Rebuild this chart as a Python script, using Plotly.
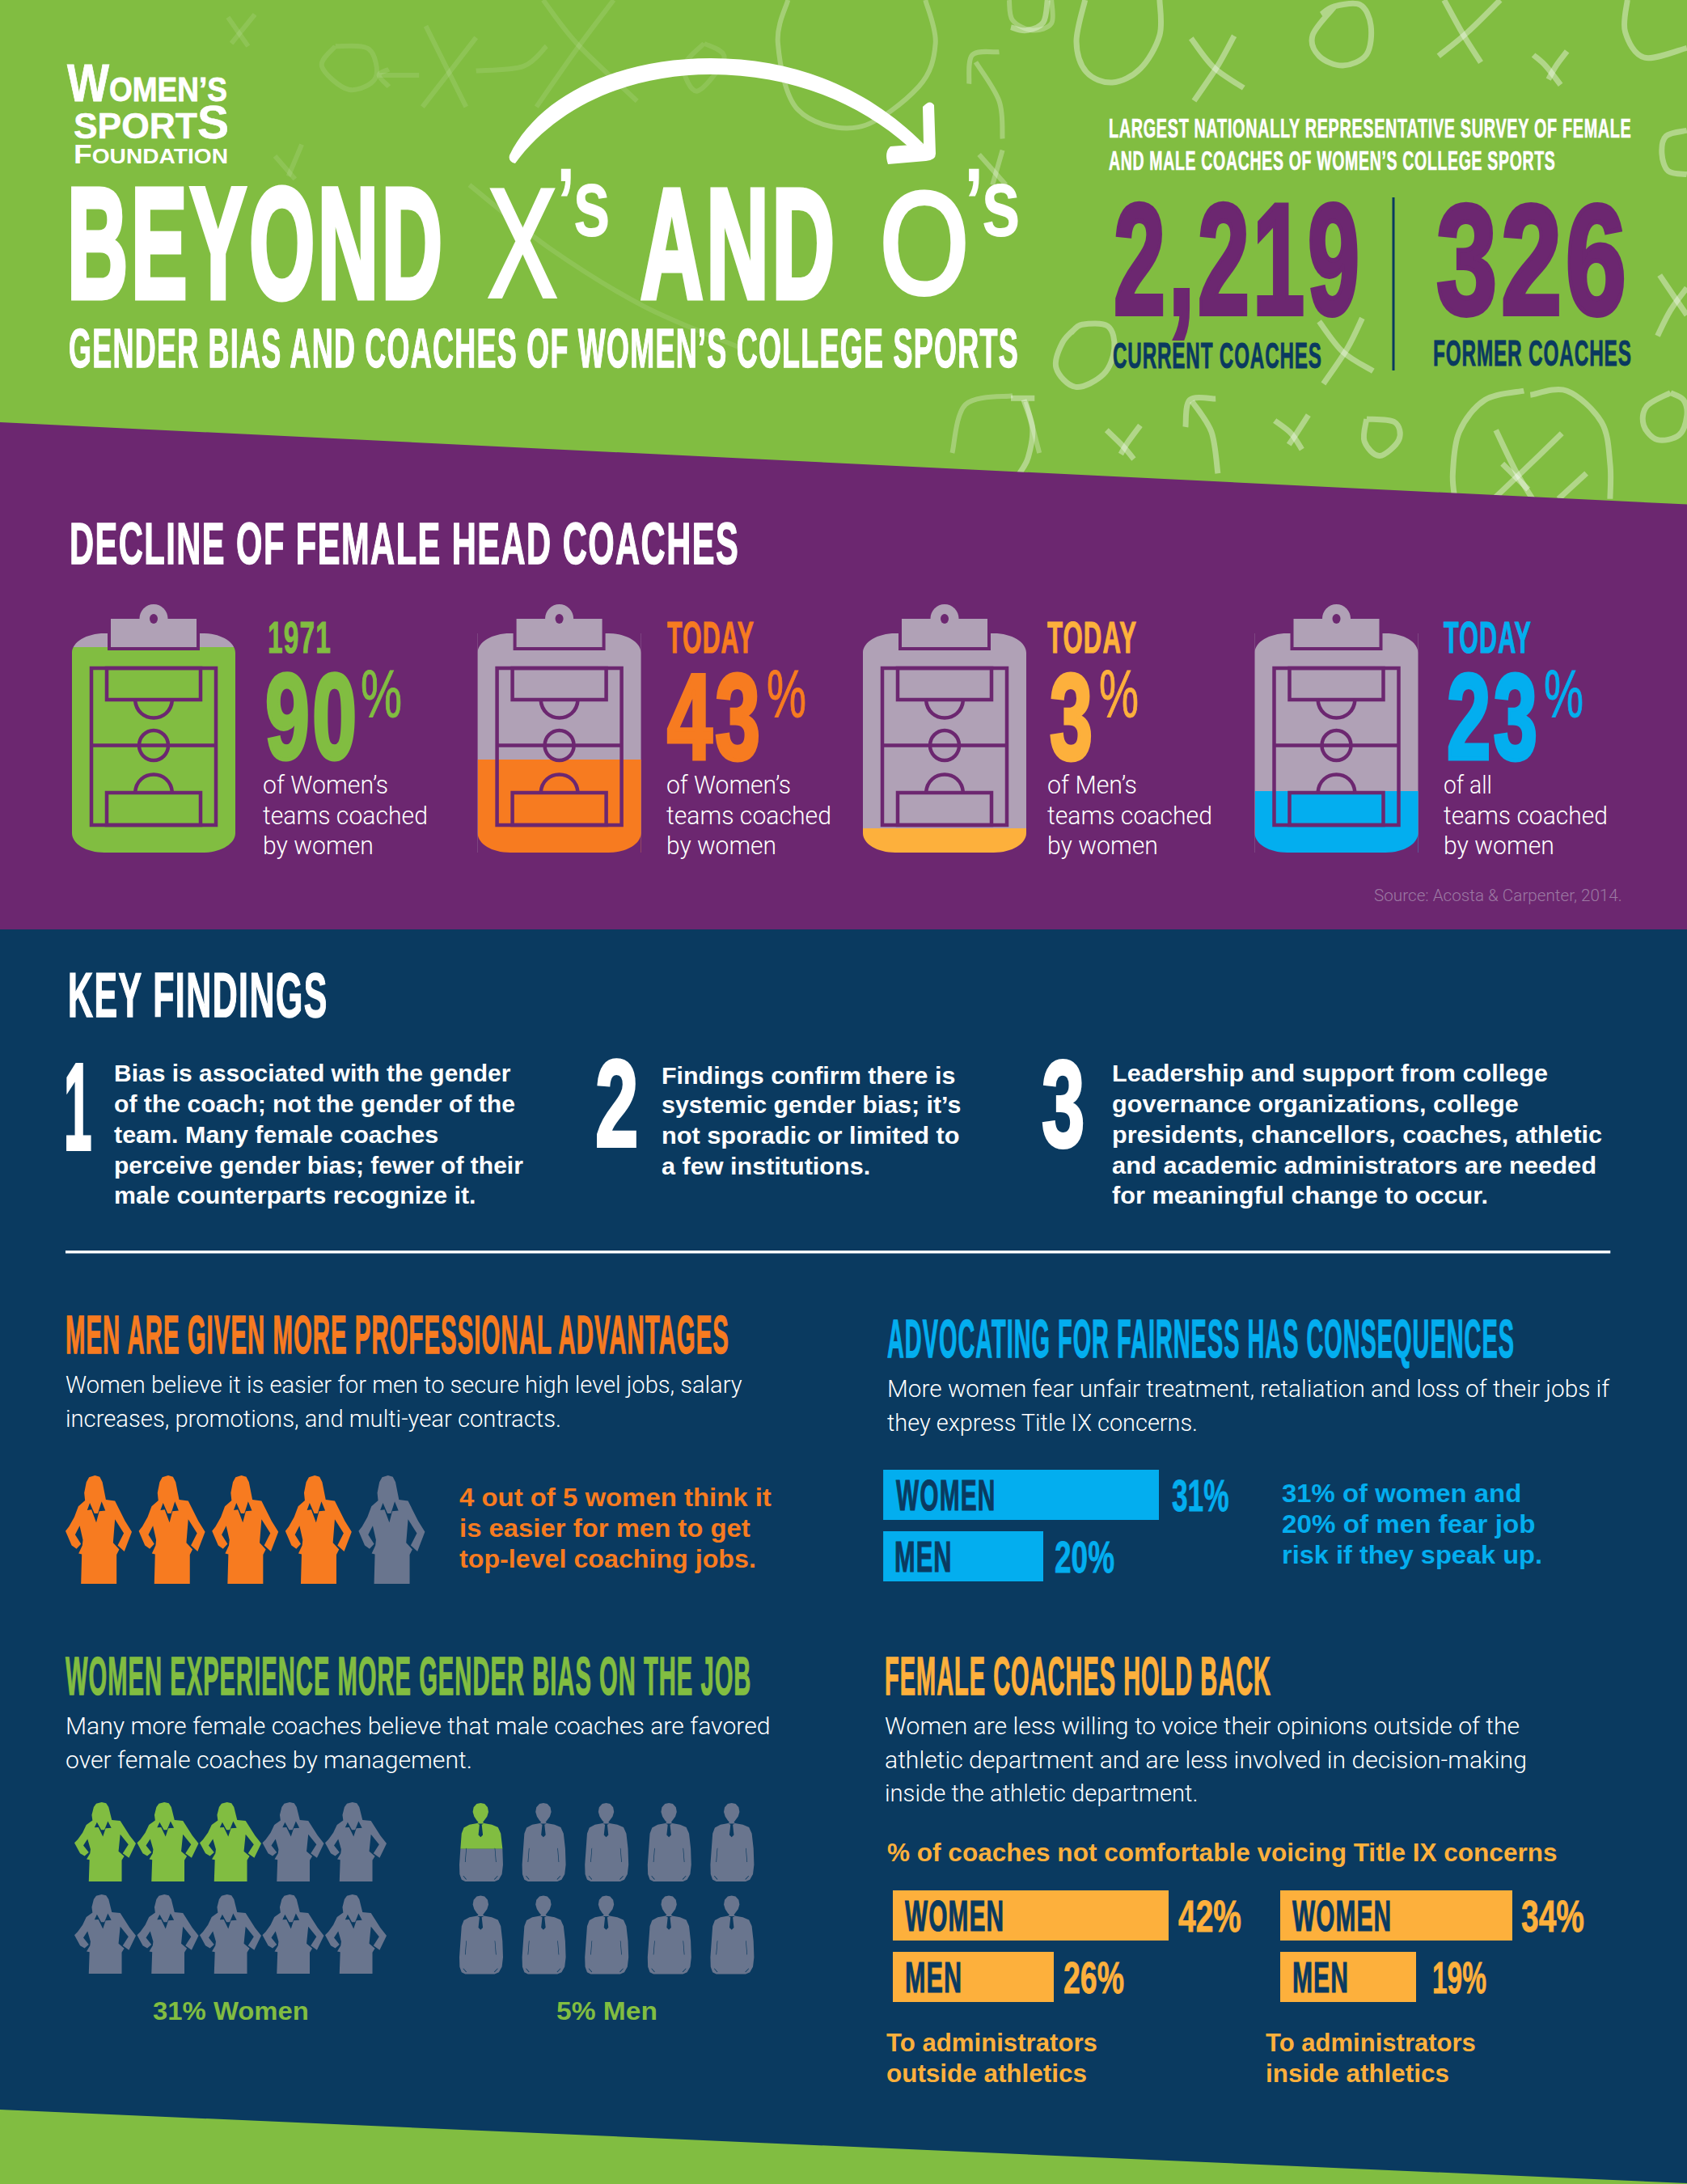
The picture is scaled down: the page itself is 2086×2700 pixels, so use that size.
import json
import plotly.graph_objects as go

# ---------- data ----------
COACH_COUNTS = ["2,219", "326"]
COACH_LABELS = ["CURRENT COACHES", "FORMER COACHES"]
CLIP_TITLES = ["1971", "TODAY", "TODAY", "TODAY"]
CLIP_PERCENT = [90, 43, 3, 23]
CLIP_FILL_LEVEL = [93.7, 42.4, 11.0, 28.0]   # drawn fill height of each clipboard, % of clipboard
CLIP_FIRST_LINE = ["of Women’s", "of Women’s", "of Men’s", "of all"]
FAIR_CATS = ["WOMEN", "MEN"]
FAIR_VALUES = [31, 20]
OUTSIDE_CATS = ["WOMEN", "MEN"]
OUTSIDE_VALUES = [42, 26]
INSIDE_CATS = ["WOMEN", "MEN"]
INSIDE_VALUES = [34, 19]
ADV_ICONS_TOTAL, ADV_ICONS_FILLED = 5, 4
BIAS_WOMEN_TOTAL, BIAS_WOMEN_FILLED = 10, 3
BIAS_MEN_TOTAL, BIAS_MEN_FILLED = 10, 0.586

# ---------- palette ----------
GREEN = "#81BD41"; PURPLE = "#6C2770"; NAVY = "#0A3A60"; ORANGE = "#F77B20"
YELLOW = "#FDB03C"; BLUE = "#03AEEF"; LILAC = "#B0A1B6"; ICON = "#69758E"
NARROW = "Liberation Sans Narrow, Liberation Sans"; SANS = "Liberation Sans"; LIGHT = "Roboto"

W, H = 2086, 2700
k = W / 1211.0

fig = go.Figure()
shapes, annots, fits = [], [], {}
layout_axes = {}
axis_n = [1]

def new_axes(x0, x1, y0, y1, xr, yr):
    axis_n[0] += 1
    n = axis_n[0]
    layout_axes[f"xaxis{n}"] = dict(domain=[x0 / W, x1 / W], range=xr, visible=False, anchor=f"y{n}", fixedrange=True)
    layout_axes[f"yaxis{n}"] = dict(domain=[1 - y1 / H, 1 - y0 / H], range=yr, visible=False, anchor=f"x{n}", fixedrange=True)
    return f"x{n}", f"y{n}"

def T(x, y, text, size, color, fam=NARROW, bold=True, x1=None, anchor="left", weight=None, ls=None, sw=None):
    i = len(annots)
    annots.append(dict(x=x, y=y, xref="x", yref="y", text=text, showarrow=False, xanchor=anchor, yanchor="middle",
                       borderpad=0, borderwidth=0, align="left",
                       font=dict(size=size, color=color, family=fam, weight=weight if weight else (700 if bold else 400))))
    if x1 is not None:
        is_narrow = fam == NARROW and bold
        fits[i] = dict(w=x1 - x,
                       ls=(0.035 * size if is_narrow else 0) if ls is None else ls,
                       sw=(0.02 * size if is_narrow else 0) if sw is None else sw)

def TP(x, y, text, size, color, fam=NARROW, x1=None, **kw):
    T(x * k, y * k, text, size, color, fam, x1=None if x1 is None else x1 * k, **kw)

def poly(points, color, layer="below"):
    d = "M " + " L ".join(f"{x:.1f},{y:.1f}" for x, y in points) + " Z"
    shapes.append(dict(type="path", path=d, xref="x", yref="y", layer=layer, fillcolor=color, line=dict(width=0)))

def rect(x0, y0, x1, y1, fill, layer="below"):
    shapes.append(dict(type="rect", x0=x0, y0=y0, x1=x1, y1=y1, xref="x", yref="y", layer=layer,
                       fillcolor=fill, line=dict(width=0)))

def spline(pts, color, width):
    if len(pts) < 3:
        d = f"M {pts[0][0]:.1f},{pts[0][1]:.1f} L {pts[1][0]:.1f},{pts[1][1]:.1f}"
    else:
        d = f"M {pts[0][0]:.1f},{pts[0][1]:.1f}"
        for i in range(len(pts) - 1):
            p0 = pts[max(i - 1, 0)]; p1 = pts[i]; p2 = pts[i + 1]; p3 = pts[min(i + 2, len(pts) - 1)]
            c1 = (p1[0] + (p2[0] - p0[0]) / 6, p1[1] + (p2[1] - p0[1]) / 6)
            c2 = (p2[0] - (p3[0] - p1[0]) / 6, p2[1] - (p3[1] - p1[1]) / 6)
            d += f" C {c1[0]:.1f},{c1[1]:.1f} {c2[0]:.1f},{c2[1]:.1f} {p2[0]:.1f},{p2[1]:.1f}"
    shapes.append(dict(type="path", path=d, xref="x", yref="y", layer="below", line=dict(width=width, color=color),
                       fillcolor="rgba(0,0,0,0)"))

# ---------- background ----------
rect(0, 0, W, 700, GREEN)

RIGHT_DOODLES = [
    [(172,0),(152,130),(175,225),(235,258),(300,215),(345,110),(345,0)],
    [(418,120),(470,210),(540,275)], [(518,112),(480,205),(425,315)],
    [(750,22),(700,110),(715,175),(770,205),(825,170),(835,80),(810,15),(750,20),(720,45)],
    [(1005,0),(1050,110),(1090,195)], [(1135,0),(1060,100),(992,175)],
    [(1212,172),(1240,205),(1275,265)], [(1290,160),(1265,205),(1247,248)],
    [(1430,0),(1425,100),(1470,180),(1568,150)],
    [(0,85),(35,95),(75,70),(85,0)],
    [(1568,408),(1520,425),(1510,480),(1525,535),(1568,545)],
    [(1505,860),(1540,930),(1568,985)], [(1568,900),(1530,970),(1500,1050)],
    [(155,1020),(120,1070),(105,1150),(150,1210),(215,1170),(240,1090),(225,1020),(165,1015),(140,1040)],
    [(715,1005),(770,1100),(840,1160)], [(815,995),(780,1090),(725,1200)],
    [(0,1245),(55,1245)], [(30,1250),(50,1340),(40,1430),(20,1480)],
    [(222,1345),(260,1395),(285,1435)], [(300,1330),(270,1385),(255,1420)],
    [(475,1247),(415,1250),(405,1335)], [(420,1255),(465,1350),(480,1480)],
    [(612,1315),(650,1355),(675,1405)], [(690,1298),(660,1360),(645,1390)],
    [(825,1310),(820,1380),(855,1425),(900,1375),(890,1320),(825,1310)],
    [(1190,1222),(1100,1250),(1040,1350),(1025,1480),(1030,1560)],
    [(1205,1235),(1290,1222),(1370,1320),(1390,1450),(1390,1560)],
    [(1125,1345),(1170,1470),(1210,1560)], [(1278,1355),(1190,1470),(1120,1560)],
    [(1530,1228),(1475,1270),(1468,1330),(1500,1375),(1550,1360),(1568,1300),(1560,1250),(1530,1228)],
    [(1140,1450),(1200,1530)], [(1335,1480),(1270,1560)],
]
for d in RIGHT_DOODLES:
    spline([(1250 + X / 1.876, Y / 2.529) for X, Y in d], "rgba(255,255,255,0.38)", 7)

LEFT_DOODLES = [
    [(340,60),(370,160)], [(380,50),(345,150)],
    [(635,90),(665,230),(695,370)], [(710,130),(670,250),(630,370)],
    [(710,245),(780,230),(815,160)],
    [(500,160),(480,230),(520,310),(560,270),(550,170),(500,160)],
    [(565,260),(625,260)], [(580,240),(565,260),(580,300)],
    [(810,0),(860,150),(950,350)], [(915,0),(860,170),(800,370)],
    [(1050,150),(1020,230),(1040,315),(1080,200),(1050,150)],
    [(1175,0),(1160,150),(1190,380),(1280,440),(1370,300),(1395,150),(1380,0)],
    [(1505,0),(1510,70),(1540,105),(1568,80),(1568,0)],
    [(1490,180),(1450,190),(1445,290)], [(1455,215),(1490,350),(1495,480)],
    [(1495,520),(1480,640)], [(1460,535),(1500,640)],
    [(450,500),(430,610)], [(410,540),(440,620)],
    [(700,640),(820,860),(960,1060),(1100,1200)],
    [(1510,1370),(1440,1400),(1420,1568)], [(1530,1390),(1550,1568)],
]
for d in LEFT_DOODLES:
    op = 0.28 if d[0][0] >= 1170 else 0.11
    spline([(X / 1.206, Y / 2.8) for X, Y in d], f"rgba(255,255,255,{op})", 6)

poly([(0, 522), (W, 623.6), (W, 1150), (0, 1150)], PURPLE)
rect(0, 1149, W, H, NAVY)
poly([(0, 2608), (W, 2699), (W, H), (0, H)], GREEN)

# ---------- arrow ----------
shapes.append(dict(type="path", xref="x", yref="y", layer="below", fillcolor="white", line=dict(width=0),
    path="M 630,192 C 665,120 760,72 879,72 C 985,72 1075,110 1142,178 L 1124,182 C 1060,125 975,92 879,92 C 780,92 690,130 637,202 Q 628,200 630,192 Z"))
shapes.append(dict(type="path", xref="x", yref="y", layer="below", fillcolor="white", line=dict(width=0),
    path="M 1141,132 Q 1150,122 1155,130 L 1157,190 Q 1157,198 1145,199 L 1098,203 Q 1093,188 1101,181 L 1142,178 Z"))

# ---------- header text ----------
T(83, 103, "<span style='font-size:64px'>W</span>OMEN’S", 43, "white", SANS, x1=281, sw=0.8)
T(91, 150, "SPORT<span style='font-size:58px'>S</span>", 44, "white", SANS, x1=283, sw=0.5)
T(91, 190, "<span style='font-size:33px'>F</span>OUNDATION", 25, "white", SANS, x1=282)
T(83, 300, "BEYOND", 194, "white", x1=547, sw=7)
T(604, 300, "X", 190, "white", SANS, bold=False, x1=688, sw=6)
T(688, 250, "’s", 120, "white", SANS, x1=755)
T(792, 300, "AND", 194, "white", x1=1032, sw=7)
T(1088, 300, "O", 178, "white", SANS, bold=False, x1=1198, sw=6)
T(1192, 250, "’s", 120, "white", SANS, x1=1262)
T(85, 430, "GENDER BIAS AND COACHES OF WOMEN’S COLLEGE SPORTS", 68, "white", x1=1259)
T(1371, 158, "LARGEST NATIONALLY REPRESENTATIVE SURVEY OF FEMALE", 34, "white", x1=2017)
T(1371, 198, "AND MALE COACHES OF WOMEN’S COLLEGE SPORTS", 34, "white", x1=1923)
T(1377, 320, COACH_COUNTS[0], 194, PURPLE, x1=1681, sw=6)
T(1776, 320, COACH_COUNTS[1], 194, PURPLE, x1=2011, sw=6)
rect(1721.5, 244, 1724.5, 458, NAVY)
T(1376, 439, COACH_LABELS[0], 45, NAVY, x1=1634)
T(1772, 436, COACH_LABELS[1], 45, NAVY, x1=2017)

# ---------- decline section ----------
TP(50, 390, "DECLINE OF FEMALE HEAD COACHES", 73, "white", x1=530)
CLIP_COLORS = [GREEN, ORANGE, YELLOW, BLUE]
CLIP_LEFT = [89, 590.6, 1067, 1551.5]
CLIP_W, CLIP_TOP, CLIP_BOTTOM = 202, 783, 1054
TEXT_BOXES = [
    dict(title=(331,409), num=(328,441), pct=(446,497), lines=[(325,480),(325,529),(325,462)]),
    dict(title=(825,932), num=(825,940), pct=(948,997), lines=[(824,978),(824,1028),(824,960)]),
    dict(title=(1295,1405), num=(1298,1351), pct=(1359,1408), lines=[(1295,1406),(1295,1499),(1295,1432)]),
    dict(title=(1785,1893), num=(1789,1901), pct=(1909,1958), lines=[(1785,1845),(1785,1988),(1785,1922)]),
]
for i, x0 in enumerate(CLIP_LEFT):
    x1 = x0 + CLIP_W
    rect(x0, CLIP_TOP, x1, CLIP_BOTTOM, LILAC)
    xa, ya = new_axes(x0, x1, CLIP_TOP, CLIP_BOTTOM, [-0.5, 0.5], [0, 100])
    fig.add_trace(go.Bar(x=[0], y=[CLIP_FILL_LEVEL[i]], width=1, marker=dict(color=CLIP_COLORS[i], line=dict(width=0)),
                         xaxis=xa, yaxis=ya, hoverinfo="skip", showlegend=False))
    # rounded corners are purple masks above the fill
    rx, ry = 40, 24
    for cx, cy, sx, sy in [(x0, CLIP_TOP, 1, 1), (x1, CLIP_TOP, -1, 1), (x0, CLIP_BOTTOM, 1, -1), (x1, CLIP_BOTTOM, -1, -1)]:
        shapes.append(dict(type="path", xref="x", yref="y", layer="above", fillcolor=PURPLE, line=dict(width=0),
            path=f"M {cx},{cy} L {cx+sx*rx},{cy} C {cx+sx*rx*0.45},{cy} {cx},{cy+sy*ry*0.45} {cx},{cy+sy*ry} Z"))
    # holder
    cx = x0 + 101
    rect(cx - 57, CLIP_TOP - 2, cx + 57, 804, PURPLE, layer="above")
    shapes.append(dict(type="circle", xref="x", yref="y", layer="above", x0=cx - 17.5, x1=cx + 17.5, y0=747, y1=783,
                       fillcolor=LILAC, line=dict(width=0)))
    rect(cx - 53, 765, cx + 53, 800, LILAC, layer="above")
    shapes.append(dict(type="circle", xref="x", yref="y", layer="above", x0=cx - 5, x1=cx + 5, y0=759, y1=771,
                       fillcolor=PURPLE, line=dict(width=0)))
    # pitch
    L = dict(color=PURPLE, width=4.5)
    for s in [
        dict(type="rect", x0=cx - 77, x1=cx + 77, y0=826, y1=1020),
        dict(type="line", x0=cx - 77, x1=cx + 77, y0=921.5, y1=921.5),
        dict(type="circle", x0=cx - 18, x1=cx + 18, y0=903, y1=940),
        dict(type="rect", x0=cx - 58, x1=cx + 58, y0=826, y1=865),
        dict(type="rect", x0=cx - 58, x1=cx + 58, y0=980, y1=1020),
        dict(type="path", path=f"M {cx-23},865 C {cx-21},895 {cx+21},895 {cx+23},865"),
        dict(type="path", path=f"M {cx-23},980 C {cx-21},950 {cx+21},950 {cx+23},980"),
    ]:
        shapes.append(dict(xref="x", yref="y", layer="above", line=L, fillcolor="rgba(0,0,0,0)", **s))
    b = TEXT_BOXES[i]; c = CLIP_COLORS[i]
    T(b["title"][0], 787, CLIP_TITLES[i], 56, c, x1=b["title"][1])
    T(b["num"][0], 886, str(CLIP_PERCENT[i]), 150, c, x1=b["num"][1], sw=5)
    T(b["pct"][0], 858, "%", 84, c, bold=False, x1=b["pct"][1], sw=1)
    for (a0, a1), y, s in zip(b["lines"], [970, 1008, 1045], [CLIP_FIRST_LINE[i], "teams coached", "by women"]):
        T(a0, y, s, 31, "white", LIGHT, bold=False, x1=a1, weight=300)
T(1699, 1107, "Source: Acosta &amp; Carpenter, 2014.", 21, "#9C79A3", LIGHT, bold=False, x1=2006, weight=300)

# ---------- key findings ----------
TP(49, 714, "KEY FINDINGS", 78, "white", x1=235)
TP(46, 794, "1", 152, "white", x1=66, ls=0, sw=4)
TP(427, 792, "2", 152, "white", x1=458, ls=0, sw=4)
TP(748, 792, "3", 152, "white", x1=779, ls=0, sw=4)
F1 = [("Bias is associated with the gender",367,770),("of the coach; not the gender of the",370,792),
      ("team. Many female coaches",315,814),("perceive gender bias; fewer of their",376,836),
      ("male counterparts recognize it.",342,858)]
F2 = [("Findings confirm there is",686,772),("systemic gender bias; it’s",690,793),
      ("not sporadic or limited to",689,815),("a few institutions.",625,837)]
F3 = [("Leadership and support from college",1111,770),("governance organizations, college",1090,792),
      ("presidents, chancellors, coaches, athletic",1150,814),("and academic administrators are needed",1146,836),
      ("for meaningful change to occur.",1068,858)]
for x0, lines in [(82, F1), (475, F2), (798, F3)]:
    for s, x1, y in lines:
        TP(x0, y, s, 30, "white", SANS, x1=x1)
rect(47 * k, 897.5 * k, 1156 * k, 899.5 * k, "white")

# ---------- section headings & paragraphs ----------
TP(47, 958, "MEN ARE GIVEN MORE PROFESSIONAL ADVANTAGES", 66, ORANGE, x1=523)
TP(637, 961, "ADVOCATING FOR FAIRNESS HAS CONSEQUENCES", 66, BLUE, x1=1087)
TP(47, 1203, "WOMEN EXPERIENCE MORE GENDER BIAS ON THE JOB", 66, GREEN, x1=539)
TP(635, 1203, "FEMALE COACHES HOLD BACK", 66, YELLOW, x1=912)
BODY = [
    (47, 994, "Women believe it is easier for men to secure high level jobs, salary", 533),
    (47, 1018, "increases, promotions, and multi-year contracts.", 403),
    (637, 997, "More women fear unfair treatment, retaliation and loss of their jobs if", 1156),
    (637, 1021, "they express Title IX concerns.", 860),
    (47, 1239, "Many more female coaches believe that male coaches are favored", 553),
    (47, 1263, "over female coaches by management.", 339),
    (635, 1239, "Women are less willing to voice their opinions outside of the", 1091),
    (635, 1263, "athletic department and are less involved in decision-making", 1096),
    (635, 1287, "inside the athletic department.", 860),
]
for x, y, s, x1 in BODY:
    TP(x, y, s, 29, "white", LIGHT, x1=x1, bold=False, weight=300)
for y, s, x1 in [(1075, "4 out of 5 women think it", 554), (1097, "is easier for men to get", 539), (1119, "top-level coaching jobs.", 543)]:
    TP(330, y, s, 31, ORANGE, SANS, x1=x1)
for y, s, x1 in [(1072, "31% of women and", 1092), (1094, "20% of men fear job", 1102), (1116, "risk if they speak up.", 1107)]:
    TP(920, y, s, 31, BLUE, SANS, x1=x1)
T(1097, 2290, "% of coaches not comfortable voicing Title IX concerns", 31, YELLOW, SANS, x1=1926)
T(1096, 2525, "To administrators", 32, YELLOW, SANS, x1=1357)
T(1096, 2563, "outside athletics", 32, YELLOW, SANS, x1=1344)
T(1565, 2525, "To administrators", 32, YELLOW, SANS, x1=1825)
T(1565, 2563, "inside athletics", 32, YELLOW, SANS, x1=1792)
T(189, 2486, "31% Women", 32, GREEN, SANS, x1=382)
T(688, 2486, "5% Men", 32, GREEN, SANS, x1=813)

# ---------- horizontal bars (linear axes fitted to the two bar ends seen in the picture) ----------
def bar_chart(cats, vals, color, x_left, x_ends, y_top, y_bot, lab_boxes, val_boxes, lab_col, val_size=56):
    slope = (x_ends[0] - x_ends[1]) / (vals[0] - vals[1])
    r0 = vals[0] - (x_ends[0] - x_left) / slope
    x_right = x_ends[0] + 5
    r1 = vals[0] + 5 / slope
    pitch = (y_bot - y_top - 0) / 1.816
    xa, ya = new_axes(x_left, x_right, y_top, y_bot, [r0, r1], [1.408, -0.408])
    layout_axes["yaxis" + ya[1:]].update(type="linear")
    fig.add_trace(go.Bar(y=[0, 1], x=[v - r0 for v in vals], base=[r0, r0], orientation="h", width=0.816,
                         marker=dict(color=color, line=dict(width=0)), xaxis=xa, yaxis=ya, hoverinfo="skip",
                         showlegend=False, customdata=cats))
    for j in range(2):
        yc = y_top + (j + 0.408) * pitch
        T(lab_boxes[j][0], yc, cats[j], 54, lab_col, x1=lab_boxes[j][1])
        T(val_boxes[j][0], yc, f"{vals[j]}%", val_size, color, x1=val_boxes[j][1], ls=0, sw=0.8)

bar_chart(FAIR_CATS, FAIR_VALUES, BLUE, 634 * k, [832 * k, 749 * k], 1817, 1955,
          [(643 * k, 714 * k), (642 * k, 683 * k)], [(841 * k, 882 * k), (757 * k, 800 * k)], NAVY)
bar_chart(OUTSIDE_CATS, OUTSIDE_VALUES, YELLOW, 1104, [1445, 1303], 2337, 2475,
          [(1119, 1241), (1119, 1189)], [(1457, 1535), (1315, 1390)], NAVY)
bar_chart(INSIDE_CATS, INSIDE_VALUES, YELLOW, 1583, [1870, 1751], 2337, 2475,
          [(1598, 1720), (1598, 1667)], [(1881, 1959), (1771, 1838)], NAVY)

# ---------- pictograms ----------
WOMAN = [(137,25),(155,30),(165,50),(172,90),(178,115),(212,120),(222,140),(250,195),(275,235),(262,270),(247,308),
         (222,285),(245,240),(212,188),(208,240),(205,275),(228,300),(218,320),(218,428),(85,428),(88,318),(76,315),
         (90,285),(92,265),(80,212),(63,245),(85,280),(68,298),(50,285),(27,232),(40,215),(60,180),(75,140),(95,120),
         (100,118),(97,90),(105,50),(115,32)]
WOMAN_DETAIL = [[(118,127),(108,154),(124,152),(142,200),(153,158),(176,156),(162,122),(148,166),(135,166)]]
MAN = [(110,22),(124,25),(135,38),(138,55),(133,72),(124,86),(118,93),(122,97),(150,102),(172,112),(182,135),(188,190),
       (190,250),(186,285),(175,305),(160,312),(55,312),(42,305),(35,285),(34,250),(38,190),(42,135),(50,113),(70,102),
       (98,97),(102,93),(96,86),(87,72),(82,55),(85,38),(96,25)]
MAN_DETAIL = [[(98,98),(122,98),(114,102),(118,140),(110,148),(102,140),(106,102)],
              [(58,190),(60,188),(56,240),(54,240)], [(160,188),(162,190),(166,240),(164,240)],
              [(47,292),(49,291),(60,304),(58,305)], [(170,291),(172,292),(160,305),(158,304)]]

def norm(pts, bx):
    x0, x1, y0, y1 = bx
    return [((x - x0) / (x1 - x0), (y - y0) / (y1 - y0)) for x, y in pts]

def clip(pts, f, keep_top=True):
    out = []
    inside = (lambda p: p[1] <= f) if keep_top else (lambda p: p[1] >= f)
    for i, a in enumerate(pts):
        b = pts[(i + 1) % len(pts)]
        if inside(a):
            out.append(a)
        if inside(a) != inside(b):
            t = (f - a[1]) / (b[1] - a[1])
            out.append((a[0] + t * (b[0] - a[0]), f))
    return out

def pictogram(outline, details, total, filled, color, columns, x0, pitch_x, y0, glyph_h, pitch_y, glyph_w):
    rows = (total + columns - 1) // columns
    xa, ya = new_axes(x0, x0 + columns * pitch_x + 4, y0, y0 + rows * pitch_y, [0, columns + 4 / pitch_x], [rows, 0])
    groups = {color: ([], []), ICON: ([], [])}
    det = ([], [])
    wf, hf = glyph_w / pitch_x, glyph_h / pitch_y
    for n in range(total):
        r, c = n // columns, n % columns
        f = max(0.0, min(1.0, filled - n))
        def place(pts, col):
            gx, gy = groups[col] if col else det
            for px, py in pts:
                gx.append(c + px * wf); gy.append(r + py * hf)
            if pts:
                gx.append(pts[0][0] * wf + c); gy.append(pts[0][1] * hf + r)
            gx.append(None); gy.append(None)
        if f > 0:
            place(clip(outline, f, True) if f < 1 else outline, color)
        if f < 1:
            place(clip(outline, f, False) if f > 0 else outline, ICON)
        for d in details:
            place(d, None)
    for col, (gx, gy) in groups.items():
        fig.add_trace(go.Scatter(x=gx, y=gy, mode="lines", fill="toself", fillcolor=col, line=dict(width=0, color=col),
                                 xaxis=xa, yaxis=ya, hoverinfo="skip", showlegend=False))
    fig.add_trace(go.Scatter(x=det[0], y=det[1], mode="lines", fill="toself", fillcolor=NAVY, line=dict(width=0, color=NAVY),
                             xaxis=xa, yaxis=ya, hoverinfo="skip", showlegend=False))

WB = (27, 275, 25, 428)
MB = (34, 190, 22, 312)
wo = norm(WOMAN, WB); wd = [norm(p, WB) for p in WOMAN_DETAIL]
mo = norm(MAN, MB); md = [norm(p, MB) for p in MAN_DETAIL]
pictogram(wo, wd, ADV_ICONS_TOTAL, ADV_ICONS_FILLED, ORANGE, 5, 81, 90.6, 1824, 134, 134, 82)
pictogram(wo, wd, BIAS_WOMEN_TOTAL, BIAS_WOMEN_FILLED, GREEN, 5, 92, 77.5, 2228, 98, 114, 76)
pictogram(mo, md, BIAS_MEN_TOTAL, BIAS_MEN_FILLED, GREEN, 5, 568, 77.6, 2229, 97, 114.5, 54)

# base pixel canvas
fig.add_trace(go.Scatter(x=[0], y=[0], mode="markers", marker=dict(opacity=0), xaxis="x", yaxis="y", hoverinfo="skip", showlegend=False))

fig.update_layout(
    width=W, height=H, margin=dict(l=0, r=0, t=0, b=0), autosize=False, showlegend=False,
    paper_bgcolor=NAVY, plot_bgcolor="rgba(0,0,0,0)", bargap=0,
    xaxis=dict(domain=[0, 1], range=[0, W], visible=False, fixedrange=True),
    yaxis=dict(domain=[0, 1], range=[H, 0], visible=False, fixedrange=True),
    shapes=shapes, annotations=annots, **layout_axes,
)

js = """
document.body.style.margin='0';
var gd=document.getElementById('{plot_id}');
var fits=""" + json.dumps(fits) + """;
gd.querySelectorAll('g.annotation').forEach(function(g){
  var f=fits[g.getAttribute('data-index')]; if(!f) return;
  var t=g.querySelector('text.annotation-text'); if(!t) return;
  if(f.ls) t.style.letterSpacing=f.ls+'px';
  if(f.sw){ t.style.stroke=getComputedStyle(t).fill; t.style.strokeWidth=f.sw+'px'; t.style.strokeLinejoin='miter'; }
  var b=t.getBBox(); var s=f.w/(b.width-(f.ls||0));
  t.setAttribute('transform','translate('+(b.x*(1-s))+',0) scale('+s+',1)');
});
"""
fig.write_html("out.html", post_script=js, config=dict(displayModeBar=False))
